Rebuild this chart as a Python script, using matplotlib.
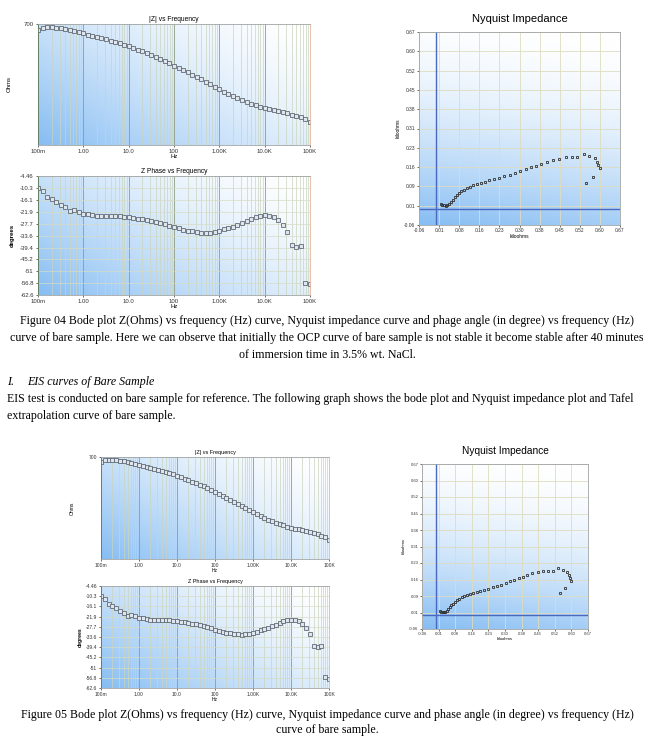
import numpy as np
import matplotlib
matplotlib.use('Agg')
import matplotlib.pyplot as plt
from matplotlib.colors import LinearSegmentedColormap
from matplotlib.ticker import FixedLocator, FixedFormatter, NullLocator, LogLocator, NullFormatter

W, H = 655, 743

# sweep: 10 points per decade, 100 mHz .. 100 kHz
freq = np.logspace(-1, 5, 61)
zmod = [560, 608, 622, 622, 615, 601, 587, 567, 541, 522,
        504, 481, 464, 443, 428, 408, 389, 371, 354, 338,
        319, 301, 284, 267, 252, 238, 222, 207, 193, 177,
        163, 150, 138, 128, 118, 108, 99.8, 91.9, 84.6, 77.1,
        71.0, 65.4, 60.3, 55.5, 51.7, 48.2, 45.5, 42.8, 40.4, 38.5,
        36.8, 35.5, 34.3, 33.1, 31.6, 30.5, 29.1, 27.8, 26.5, 25.3, 22.5]
phase = [-10.14, -11.93, -14.53, -15.67, -17.13, -18.43, -19.73, -21.51, -21.19, -21.84,
         -22.81, -22.97, -23.46, -23.79, -23.95, -24.11, -24.11, -23.95, -24.11, -24.44,
         -24.60, -24.92, -25.25, -25.57, -26.06, -26.38, -26.87, -27.36, -28.01, -28.66,
         -29.31, -29.96, -30.61, -31.09, -31.42, -31.74, -32.07, -32.23, -32.07, -31.58,
         -31.09, -30.44, -29.79, -29.14, -28.33, -27.52, -26.55, -25.57, -24.60, -23.79,
         -23.62, -23.79, -24.60, -26.06, -28.50, -31.58, -38.40, -39.38, -38.56, -56.59, -57.24]

nyq_re = [0.0188, 0.0249, 0.0309, 0.0370, 0.0431, 0.0491, 0.0552, 0.0625, 0.0697, 0.0770,
          0.0855, 0.0940, 0.1037, 0.1146, 0.1255, 0.1377, 0.1510, 0.1655, 0.1801, 0.1959,
          0.2128, 0.2310, 0.2504, 0.2698, 0.2892, 0.3086, 0.3268, 0.3462, 0.3644, 0.3826,
          0.4032, 0.4250, 0.4493, 0.4723, 0.4942, 0.5148, 0.5390, 0.5584, 0.5790, 0.5875,
          0.5899, 0.5960, 0.5705, 0.5463]
nyq_im = [0.0194, 0.0169, 0.0144, 0.0131, 0.0144, 0.0194, 0.0270, 0.0358, 0.0446, 0.0522,
          0.0598, 0.0673, 0.0736, 0.0799, 0.0850, 0.0900, 0.0951, 0.1001, 0.1039, 0.1089,
          0.1140, 0.1190, 0.1253, 0.1304, 0.1367, 0.1442, 0.1518, 0.1581, 0.1644, 0.1720,
          0.1783, 0.1859, 0.1909, 0.1985, 0.1985, 0.1985, 0.2098, 0.2010, 0.1922, 0.1783,
          0.1657, 0.1543, 0.1216, 0.0989]

freq_ticks = [0.1, 1, 10, 100, 1e3, 1e4, 1e5]
freq_labels = ['100m', '1.00', '10.0', '100', '1.00K', '10.0K', '100K']
phase_ticks = [-4.46, -10.3, -16.1, -21.9, -27.7, -33.6, -39.4, -45.2, -51, -56.8, -62.6]
nyq_ticks = [-0.06, 0.013, 0.086, 0.159, 0.232, 0.305, 0.378, 0.451, 0.524, 0.597, 0.67]
nyq_xlabels = ['-0.06', '0.01', '0.08', '0.16', '0.23', '0.30', '0.38', '0.45', '0.52', '0.60', '0.67']
nyq_ylabels = ['-0.06', '0.01', '0.09', '0.16', '0.23', '0.31', '0.38', '0.45', '0.52', '0.60', '0.67']

plt.rcParams['font.family'] = ['Liberation Sans', 'DejaVu Sans']

fig = plt.figure(figsize=(W / 100, H / 100), dpi=100)
fig.patch.set_facecolor('white')

blue = LinearSegmentedColormap.from_list('bg', ['#ffffff', '#86bdf3'])
MK = dict(marker='s', ls='none', ms=2.3, mfc='#dfe5ec', mec='#56606c', mew=0.55)


def box(x0, y0, x1, y1):
    return [x0 / W, 1 - y1 / H, (x1 - x0) / W, (y1 - y0) / H]


def ptext(x, y, s, **kw):
    fig.text(x / W, 1 - y / H, s, **kw)


def make_axes(rect, kind):
    bg = fig.add_axes(rect, zorder=0)
    bg.axis('off')
    X, Y = np.meshgrid(np.linspace(0, 1, 200), np.linspace(0, 1, 200))
    if kind == 'bode':
        t = ((1 - X) * 0.6 + (1 - Y) * 0.4) ** 1.5
    else:
        t = ((1 - Y) * 0.85 + (1 - X) * 0.15) ** 1.8
    bg.imshow(t, origin='lower', cmap=blue, vmin=0, vmax=1,
              extent=(0, 1, 0, 1), aspect='auto')
    ax = fig.add_axes(rect, zorder=1)
    ax.patch.set_alpha(0)
    for s in ax.spines.values():
        s.set_color('#a0a4a4')
        s.set_linewidth(0.6)
    return ax


def bode_axes(ax, fs):
    ax.set_xscale('log')
    ax.set_xlim(0.1, 1e5)
    ax.xaxis.set_major_locator(FixedLocator(freq_ticks))
    ax.xaxis.set_major_formatter(FixedFormatter(freq_labels))
    ax.xaxis.set_minor_locator(LogLocator(base=10, subs=np.arange(2, 10), numticks=20))
    ax.xaxis.set_minor_formatter(NullFormatter())
    ax.grid(True, which='major', axis='x', color='#8d9c8c', lw=0.6)
    ax.grid(True, which='minor', axis='x', color='#cad4c0', lw=0.5)
    ax.tick_params(which='minor', length=0)
    ax.tick_params(which='major', labelsize=fs, length=1.5, width=0.5, pad=1.5, colors='#333333')
    ax.spines['left'].set_color('#5f7a60')
    ax.spines['right'].set_color('#e0b8a0')
    ax.set_axisbelow(True)


def draw_group(zbox, pbox, nbox, fs, tfs, nfs, ntfs, lab_x, deg_x, nlab_x):
    # |Z| vs frequency
    ax = make_axes(box(*zbox), 'bode')
    bode_axes(ax, fs)
    ax.set_yscale('log')
    ax.set_ylim(10, 700)
    ax.yaxis.set_major_locator(FixedLocator([700]))
    ax.yaxis.set_major_formatter(FixedFormatter(['700']))
    ax.yaxis.set_minor_locator(NullLocator())
    ax.plot(freq, zmod, **MK)
    ax.set_title('|Z| vs Frequency', fontsize=tfs, pad=2)
    ax.set_xlabel('Hz', fontsize=fs, labelpad=0)
    ptext(lab_x, (zbox[1] + zbox[3]) / 2, 'Ohms', rotation=90, fontsize=fs,
          ha='center', va='center')

    # phase vs frequency
    ax = make_axes(box(*pbox), 'bode')
    bode_axes(ax, fs)
    ax.set_ylim(-62.6, -4.46)
    ax.yaxis.set_major_locator(FixedLocator(phase_ticks))
    ax.yaxis.set_major_formatter(FixedFormatter(['%g' % v for v in phase_ticks]))
    ax.grid(True, which='major', axis='y', color='#d6dcc4', lw=0.5)
    ax.plot(freq, phase, **MK)
    ax.set_title('Z Phase vs Frequency', fontsize=tfs, pad=2)
    ax.set_xlabel('Hz', fontsize=fs, labelpad=0)
    ptext(deg_x, (pbox[1] + pbox[3]) / 2, 'degrees', rotation=90, fontsize=fs,
          fontweight='bold', ha='center', va='center')

    # Nyquist
    ax = make_axes(box(*nbox), 'nyq')
    ax.set_xlim(-0.06, 0.67)
    ax.set_ylim(-0.06, 0.67)
    ax.xaxis.set_major_locator(FixedLocator(nyq_ticks))
    ax.xaxis.set_major_formatter(FixedFormatter(nyq_xlabels))
    ax.yaxis.set_major_locator(FixedLocator(nyq_ticks))
    ax.yaxis.set_major_formatter(FixedFormatter(nyq_ylabels))
    ax.grid(True, color='#dedcc0', lw=0.6)
    ax.set_axisbelow(True)
    ax.tick_params(labelsize=nfs, length=1.5, width=0.5, pad=1, colors='#333333')
    ax.axvline(0, color='#4a68c0', lw=1.0, zorder=2)
    ax.axhline(0, color='#4a68c0', lw=1.0, zorder=2)
    ax.plot(nyq_re, nyq_im, marker='s', ls='none', ms=2.0, mfc='none',
            mec='#303030', mew=0.6, zorder=3)
    ax.set_xlabel('kiloohms', fontsize=nfs, labelpad=0.5)
    ptext(nlab_x, (nbox[1] + nbox[3]) / 2, 'kiloohms', rotation=90, fontsize=nfs,
          ha='center', va='center')
    ptext((nbox[0] + nbox[2]) / 2, nbox[1] - 13, 'Nyquist Impedance', fontsize=ntfs,
          ha='center', va='center')


draw_group((38, 24, 310, 145), (38, 176, 310, 295), (419, 32, 620, 225),
           4.3, 4.8, 3.5, 8.0, 9, 12, 398)
draw_group((101, 457, 329, 559), (101, 586, 329, 688), (422, 464, 588, 629),
           3.6, 4.0, 3.0, 7.3, 72, 80, 404)

serif = dict(family=['Liberation Serif', 'DejaVu Serif'], fontsize=8.6, va='center')
ptext(327, 321, 'Figure 04 Bode plot Z(Ohms) vs frequency (Hz) curve, Nyquist impedance curve '
      'and phage angle (in degree) vs frequency (Hz)', ha='center', **serif)
ptext(327, 338, 'curve of bare sample. Here we can observe that initially the OCP curve of bare '
      'sample is not stable it become stable after 40 minutes', ha='center', **serif)
ptext(327, 355, 'of immersion time in 3.5% wt. NaCl.', ha='center', **serif)
ptext(7, 382, 'I.', style='italic', ha='left', **serif)
ptext(27, 382, 'EIS curves of Bare Sample', style='italic', ha='left', **serif)
ptext(7, 399, 'EIS test is conducted on bare sample for reference. The following graph shows '
      'the bode plot and Nyquist impedance plot and Tafel', ha='left', **serif)
ptext(7, 416, 'extrapolation curve of bare sample.', ha='left', **serif)
ptext(327, 715, 'Figure 05 Bode plot Z(Ohms) vs frequency (Hz) curve, Nyquist impedance curve '
      'and phase angle (in degree) vs frequency (Hz)', ha='center', **serif)
ptext(327, 730, 'curve of bare sample.', ha='center', **serif)

fig.savefig('out.png', dpi=100)
